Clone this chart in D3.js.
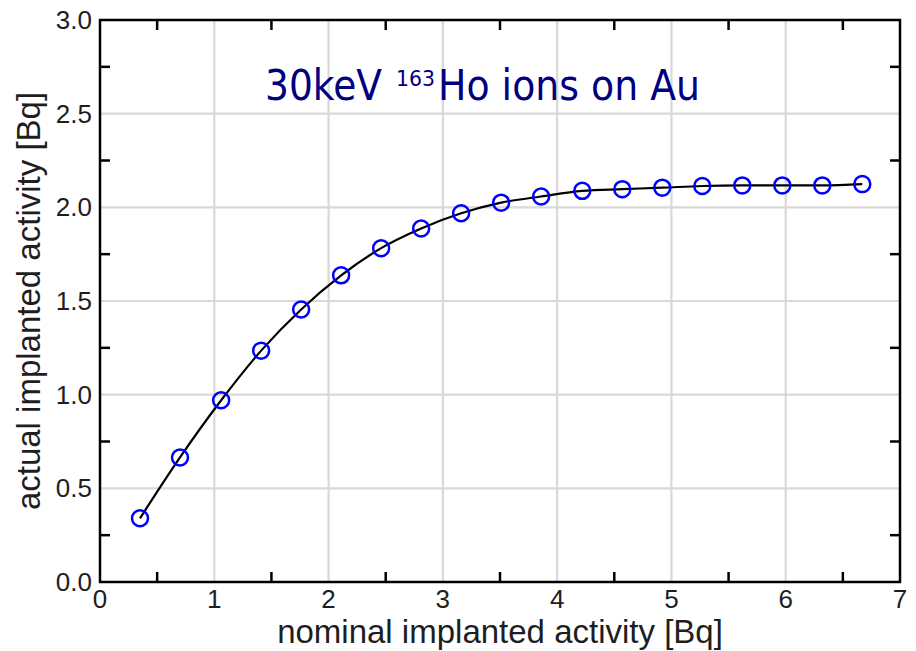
<!DOCTYPE html>
<html>
<head>
<meta charset="utf-8">
<script src="https://cdn.jsdelivr.net/npm/d3@7"></script>
<style>
  html, body { margin: 0; padding: 0; background: #fff; }
  svg { display: block; }
</style>
</head>
<body>
<svg id="chart" width="916" height="651"></svg>
<script>
// Nominal vs. actual implanted activity, 30 keV 163Ho ions on Au
const nominal = [0.35, 0.70, 1.06, 1.41, 1.76, 2.11, 2.46, 2.81, 3.16, 3.51,
                 3.86, 4.22, 4.57, 4.92, 5.27, 5.62, 5.97, 6.32, 6.67];
const actual  = [0.34, 0.665, 0.97, 1.235, 1.455, 1.637, 1.782, 1.887, 1.968, 2.025,
                 2.058, 2.088, 2.097, 2.105, 2.114, 2.117, 2.117, 2.117, 2.124];
const xTicks = [0, 1, 2, 3, 4, 5, 6, 7];
const yTicks = [0.0, 0.5, 1.0, 1.5, 2.0, 2.5, 3.0];
const xMinor = [0.5, 1.5, 2.5, 3.5, 4.5, 5.5, 6.5];
const yMinor = [0.25, 0.75, 1.25, 1.75, 2.25, 2.75];

const svg = d3.select("#chart");
const plot = { left: 100, right: 900, top: 20, bottom: 582 };

const x = d3.scaleLinear().domain([0, 7]).range([plot.left, plot.right]);
const y = d3.scaleLinear().domain([0, 3]).range([plot.bottom, plot.top]);

const textFont = "'Liberation Sans', Arial, Helvetica, sans-serif";
const textColor = "#1e1e1e";

// grid
svg.append("g").selectAll("line")
  .data(xTicks.slice(1, -1)).join("line")
  .attr("x1", d => x(d)).attr("x2", d => x(d))
  .attr("y1", plot.top).attr("y2", plot.bottom)
  .attr("stroke", "#d9d9d9").attr("stroke-width", 2.2);
svg.append("g").selectAll("line")
  .data(yTicks.slice(1, -1)).join("line")
  .attr("x1", plot.left).attr("x2", plot.right)
  .attr("y1", d => y(d)).attr("y2", d => y(d))
  .attr("stroke", "#d9d9d9").attr("stroke-width", 2.2);

// inward minor ticks on all four sides
const tl = 10;
const ticks = svg.append("g").attr("stroke", "#000").attr("stroke-width", 2.5);
ticks.append("g").selectAll("line").data(xMinor).join("line")
  .attr("x1", d => x(d)).attr("x2", d => x(d)).attr("y1", plot.bottom).attr("y2", plot.bottom - tl);
ticks.append("g").selectAll("line").data(xMinor).join("line")
  .attr("x1", d => x(d)).attr("x2", d => x(d)).attr("y1", plot.top).attr("y2", plot.top + tl);
ticks.append("g").selectAll("line").data(yMinor).join("line")
  .attr("y1", d => y(d)).attr("y2", d => y(d)).attr("x1", plot.left).attr("x2", plot.left + tl);
ticks.append("g").selectAll("line").data(yMinor).join("line")
  .attr("y1", d => y(d)).attr("y2", d => y(d)).attr("x1", plot.right).attr("x2", plot.right - tl);

// frame
svg.append("rect")
  .attr("x", plot.left).attr("y", plot.top)
  .attr("width", plot.right - plot.left).attr("height", plot.bottom - plot.top)
  .attr("fill", "none").attr("stroke", "#000").attr("stroke-width", 2.5);

// tick labels
svg.append("g").selectAll("text").data(xTicks).join("text")
  .attr("x", d => x(d)).attr("y", 608)
  .attr("text-anchor", "middle")
  .attr("font-family", textFont).attr("font-size", 26).attr("fill", textColor)
  .text(d => d3.format("d")(d));
svg.append("g").selectAll("text").data(yTicks).join("text")
  .attr("x", 92).attr("y", d => y(d)).attr("dy", "0.35em")
  .attr("text-anchor", "end")
  .attr("font-family", textFont).attr("font-size", 26).attr("fill", textColor)
  .text(d => d3.format(".1f")(d));

// axis titles
svg.append("text")
  .attr("x", (plot.left + plot.right) / 2).attr("y", 643)
  .attr("text-anchor", "middle")
  .attr("font-family", textFont).attr("font-size", 33).attr("fill", textColor)
  .text("nominal implanted activity [Bq]");
svg.append("text")
  .attr("transform", `translate(40,${(plot.top + plot.bottom) / 2}) rotate(-90)`)
  .attr("text-anchor", "middle")
  .attr("font-family", textFont).attr("font-size", 33).attr("fill", textColor)
  .text("actual implanted activity [Bq]");

// curve through the measurements
const pts = nominal.map((v, i) => [v, actual[i]]);
svg.append("path")
  .datum(pts)
  .attr("fill", "none").attr("stroke", "#000").attr("stroke-width", 2.2)
  .attr("d", d3.line().x(d => x(d[0])).y(d => y(d[1])).curve(d3.curveMonotoneX));

// markers
svg.append("g").selectAll("circle").data(pts).join("circle")
  .attr("cx", d => x(d[0])).attr("cy", d => y(d[1]))
  .attr("r", 8).attr("fill", "none")
  .attr("stroke", "#0000ff").attr("stroke-width", 2.5);

// annotation
const title = svg.append("g")
  .attr("font-family", "'DejaVu Sans', sans-serif").attr("fill", "#000080");
title.append("text").attr("x", 265).attr("y", 100)
  .attr("font-size", 42).attr("textLength", 117).attr("lengthAdjust", "spacingAndGlyphs")
  .text("30keV");
title.append("text").attr("x", 396).attr("y", 86)
  .attr("font-size", 21).attr("textLength", 39).attr("lengthAdjust", "spacingAndGlyphs")
  .text("163");
title.append("text").attr("x", 438).attr("y", 100)
  .attr("font-size", 42).attr("textLength", 262).attr("lengthAdjust", "spacingAndGlyphs")
  .text("Ho ions on Au");
</script>
</body>
</html>
